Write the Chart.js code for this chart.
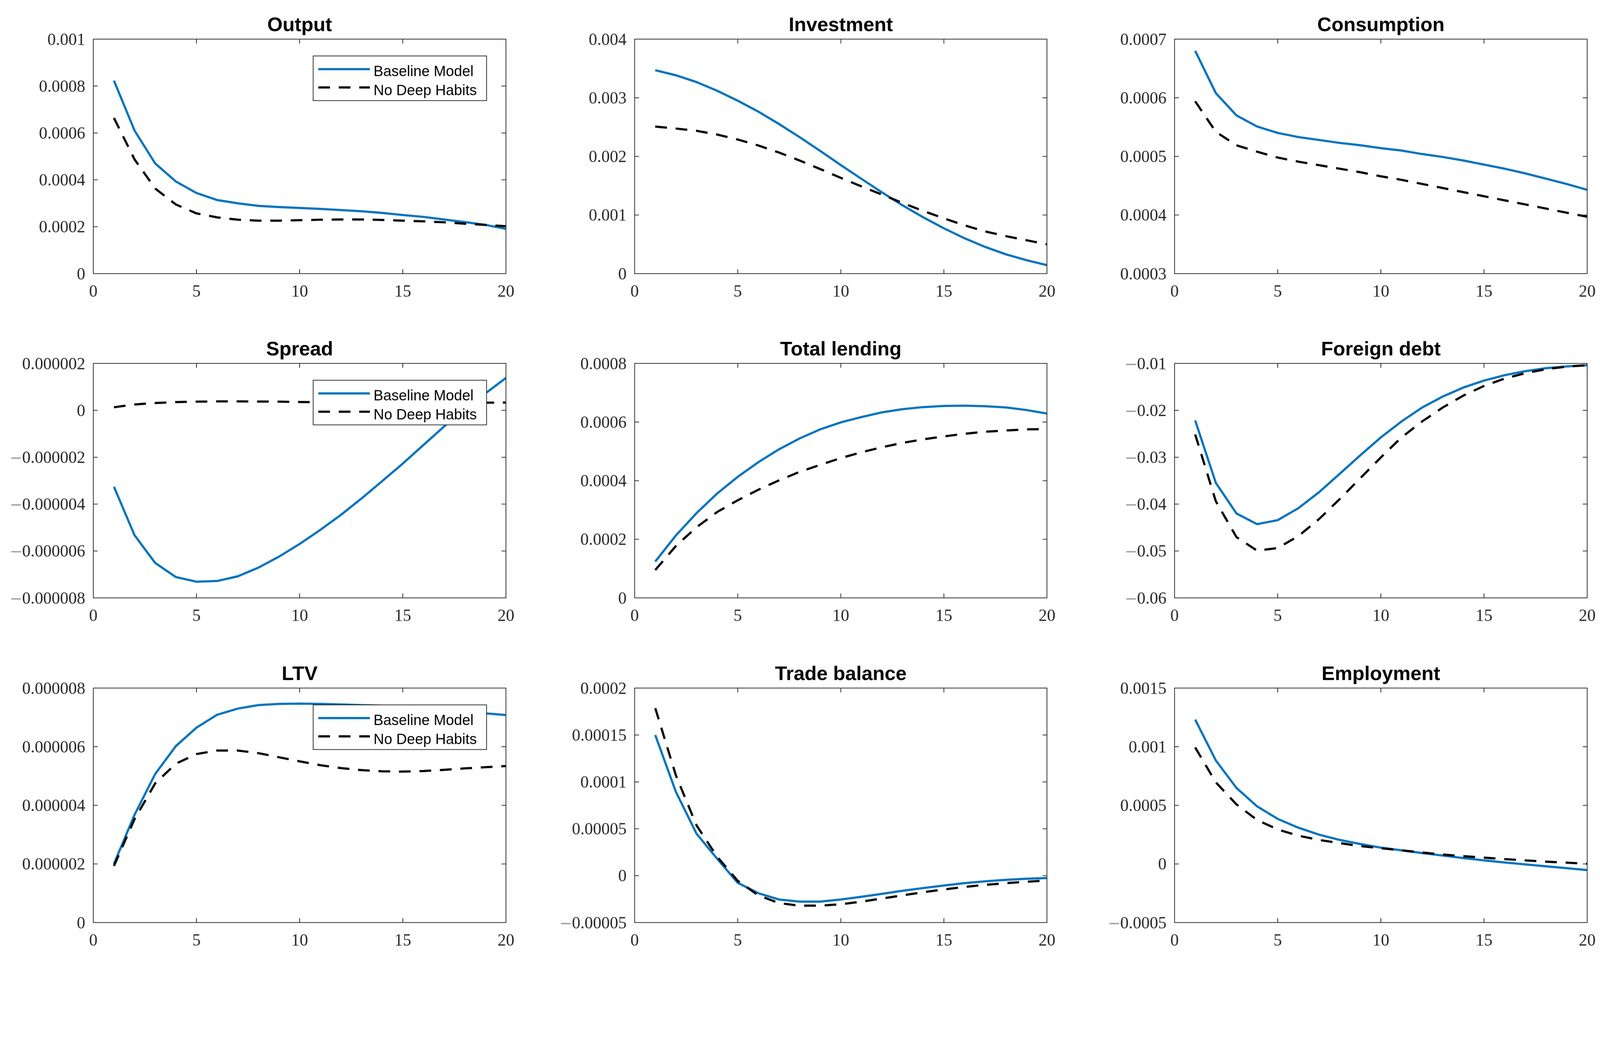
<!DOCTYPE html>
<html>
<head>
<meta charset="utf-8">
<script src="https://cdn.jsdelivr.net/npm/chart.js@4.4.1/dist/chart.umd.min.js"></script>
<style>
  html, body { margin: 0; padding: 0; background: #fff; overflow: hidden; }
  #wrap { position: relative; overflow: hidden; background: #fff; }
  #wrap canvas { position: absolute; }
</style>
</head>
<body>
<div id="wrap"></div>
<script>
// periods on the horizontal axis
const periods = [1, 2, 3, 4, 5, 6, 7, 8, 9, 10, 11, 12, 13, 14, 15, 16, 17, 18, 19, 20];
const xTicks = [0, 5, 10, 15, 20];
const seriesNames = ['Baseline Model', 'No Deep Habits'];

const outputBase = [0.000823, 0.00061, 0.00047, 0.000393, 0.000344, 0.000314, 0.0003, 0.000289, 0.000284, 0.00028, 0.000276, 0.000271, 0.000266, 0.000259, 0.00025, 0.000242, 0.000231, 0.00022, 0.000208, 0.000191];
const outputNoDH = [0.000664, 0.000487, 0.000363, 0.000295, 0.000257, 0.00024, 0.00023, 0.000226, 0.000226, 0.000228, 0.00023, 0.000231, 0.000231, 0.000229, 0.000226, 0.000223, 0.000219, 0.000213, 0.000208, 0.000202];
const outputTicks = [0, 0.0002, 0.0004, 0.0006, 0.0008, 0.001];

const investBase = [0.00347, 0.003384, 0.003268, 0.00312, 0.00295, 0.002764, 0.002553, 0.002329, 0.002094, 0.001852, 0.001617, 0.001386, 0.001164, 0.00096, 0.000773, 0.000603, 0.000456, 0.00033, 0.00023, 0.000145];
const investNoDH = [0.002509, 0.002475, 0.002437, 0.002373, 0.002288, 0.002186, 0.002066, 0.00193, 0.001784, 0.001634, 0.001488, 0.001348, 0.001205, 0.001069, 0.000943, 0.000824, 0.00072, 0.00064, 0.00057, 0.0005];
const investTicks = [0, 0.001, 0.002, 0.003, 0.004];

const consBase = [0.00068, 0.000608, 0.00057, 0.000551, 0.00054, 0.000533, 0.000528, 0.000523, 0.000519, 0.000514, 0.00051, 0.000504, 0.000499, 0.000493, 0.000486, 0.000479, 0.000471, 0.000462, 0.000453, 0.000443];
const consNoDH = [0.000594, 0.000542, 0.000519, 0.000508, 0.000498, 0.000491, 0.000485, 0.000479, 0.000473, 0.000466, 0.00046, 0.000453, 0.000446, 0.000439, 0.000432, 0.000425, 0.000418, 0.000411, 0.000404, 0.000397];
const consTicks = [0.0003, 0.0004, 0.0005, 0.0006, 0.0007];

const spreadBase = [-3.26e-6, -5.33e-6, -6.51e-6, -7.11e-6, -7.31e-6, -7.28e-6, -7.08e-6, -6.71e-6, -6.24e-6, -5.70e-6, -5.10e-6, -4.46e-6, -3.76e-6, -3.02e-6, -2.27e-6, -1.48e-6, -0.69e-6, 0.02e-6, 0.72e-6, 1.38e-6];
const spreadNoDH = [0.13e-6, 0.25e-6, 0.31e-6, 0.35e-6, 0.37e-6, 0.38e-6, 0.38e-6, 0.375e-6, 0.37e-6, 0.355e-6, 0.345e-6, 0.335e-6, 0.33e-6, 0.325e-6, 0.32e-6, 0.32e-6, 0.32e-6, 0.32e-6, 0.325e-6, 0.33e-6];
const spreadTicks = [-0.000008, -0.000006, -0.000004, -0.000002, 0, 0.000002];

const lendBase = [1.24e-4, 2.13e-4, 2.89e-4, 3.56e-4, 4.13e-4, 4.63e-4, 5.07e-4, 5.44e-4, 5.75e-4, 5.99e-4, 6.17e-4, 6.33e-4, 6.44e-4, 6.51e-4, 6.55e-4, 6.56e-4, 6.54e-4, 6.5e-4, 6.41e-4, 6.29e-4];
const lendNoDH = [0.95e-4, 1.77e-4, 2.41e-4, 2.93e-4, 3.33e-4, 3.69e-4, 4.01e-4, 4.3e-4, 4.54e-4, 4.77e-4, 4.97e-4, 5.14e-4, 5.29e-4, 5.41e-4, 5.51e-4, 5.6e-4, 5.67e-4, 5.71e-4, 5.75e-4, 5.76e-4];
const lendTicks = [0, 0.0002, 0.0004, 0.0006, 0.0008];

const debtBase = [-0.02216, -0.03547, -0.042, -0.04427, -0.04342, -0.04087, -0.03747, -0.03355, -0.0296, -0.02577, -0.02237, -0.0194, -0.01706, -0.01514, -0.01366, -0.01251, -0.01166, -0.01102, -0.01064, -0.01038];
const debtNoDH = [-0.02514, -0.03938, -0.04703, -0.04992, -0.04937, -0.04682, -0.0432, -0.03895, -0.03449, -0.03003, -0.02577, -0.02237, -0.0194, -0.01685, -0.0148, -0.01323, -0.01208, -0.01123, -0.01068, -0.01038];
const debtTicks = [-0.06, -0.05, -0.04, -0.03, -0.02, -0.01];

const ltvBase = [2.0e-6, 3.68e-6, 5.07e-6, 6.02e-6, 6.65e-6, 7.09e-6, 7.30e-6, 7.42e-6, 7.46e-6, 7.47e-6, 7.46e-6, 7.44e-6, 7.42e-6, 7.40e-6, 7.36e-6, 7.31e-6, 7.26e-6, 7.2e-6, 7.14e-6, 7.08e-6];
const ltvNoDH = [1.93e-6, 3.53e-6, 4.75e-6, 5.42e-6, 5.75e-6, 5.87e-6, 5.87e-6, 5.78e-6, 5.64e-6, 5.50e-6, 5.37e-6, 5.27e-6, 5.2e-6, 5.16e-6, 5.15e-6, 5.17e-6, 5.21e-6, 5.26e-6, 5.30e-6, 5.34e-6];
const ltvTicks = [0, 0.000002, 0.000004, 0.000006, 0.000008];

const tradeBase = [15.0e-5, 8.94e-5, 4.48e-5, 1.81e-5, -0.76e-5, -1.87e-5, -2.54e-5, -2.77e-5, -2.77e-5, -2.54e-5, -2.25e-5, -1.94e-5, -1.61e-5, -1.32e-5, -1.05e-5, -0.8e-5, -0.6e-5, -0.45e-5, -0.33e-5, -0.25e-5];
const tradeNoDH = [17.86e-5, 10.7e-5, 5.37e-5, 2.03e-5, -0.55e-5, -2.1e-5, -2.92e-5, -3.2e-5, -3.2e-5, -3.05e-5, -2.77e-5, -2.43e-5, -2.1e-5, -1.76e-5, -1.47e-5, -1.2e-5, -0.98e-5, -0.8e-5, -0.65e-5, -0.51e-5];
const tradeTicks = [-0.00005, 0, 0.00005, 0.0001, 0.00015, 0.0002];

const emplBase = [0.001231, 0.000883, 0.000648, 0.000491, 0.000384, 0.000309, 0.00025, 0.000205, 0.00017, 0.000139, 0.000116, 0.0000928, 0.0000714, 0.00005, 0.0000303, 0.0000125, -0.000004, -0.00002, -0.000036, -0.000052];
const emplNoDH = [0.000994, 0.000696, 0.000508, 0.000375, 0.000294, 0.000241, 0.000205, 0.000178, 0.000152, 0.000134, 0.000116, 0.0000981, 0.0000803, 0.000066, 0.0000535, 0.000041, 0.0000303, 0.0000196, 0.0000107, 0.0000018];
const emplTicks = [-0.0005, 0, 0.0005, 0.001, 0.0015];

const panels = [
  { title: 'Output', base: outputBase, alt: outputNoDH, ticks: outputTicks, legend: true },
  { title: 'Investment', base: investBase, alt: investNoDH, ticks: investTicks },
  { title: 'Consumption', base: consBase, alt: consNoDH, ticks: consTicks },
  { title: 'Spread', base: spreadBase, alt: spreadNoDH, ticks: spreadTicks, legend: true },
  { title: 'Total lending', base: lendBase, alt: lendNoDH, ticks: lendTicks },
  { title: 'Foreign debt', base: debtBase, alt: debtNoDH, ticks: debtTicks },
  { title: 'LTV', base: ltvBase, alt: ltvNoDH, ticks: ltvTicks, legend: true },
  { title: 'Trade balance', base: tradeBase, alt: tradeNoDH, ticks: tradeTicks },
  { title: 'Employment', base: emplBase, alt: emplNoDH, ticks: emplTicks }
];

const BLUE = '#0072BD';
const AXIS = '#262626';
const DASH = [32, 24];
const AXIS_W = 255, TOP_PAD = 107, PLOT_W = 1128, PLOT_H = 641, RIGHT_PAD = 35, XAXIS_H = 100;
const colLeft = [0, 1480, 2957];
const rowTop = [0, 887, 1774];
const tickFont = '46px "Liberation Serif"';

// the layout is worked out in screenshot pixels; map it onto css pixels
const S = (window.innerWidth || 4375) / 4375;

// MATLAB-like box, inward ticks, labels, title and legend
const matlabLook = {
  id: 'matlabLook',
  afterDatasetsDraw(chart, args, opts) {
    if (!opts.legend) return;
    const ctx = chart.ctx;
    const a = chart.chartArea;
    const bw = 474, bh = 122;
    const bx = a.right - 53 - bw, by = a.top + 46;
    ctx.save();
    ctx.fillStyle = '#fff';
    ctx.fillRect(bx, by, bw, bh);
    ctx.strokeStyle = AXIS;
    ctx.lineWidth = 2;
    ctx.strokeRect(bx, by, bw, bh);
    chart.data.datasets.forEach((ds, i) => {
      const ly = by + 36 + i * 50;
      ctx.beginPath();
      ctx.strokeStyle = ds.borderColor;
      ctx.lineWidth = ds.borderWidth;
      ctx.setLineDash(ds.borderDash || []);
      ctx.moveTo(bx + 14, ly);
      ctx.lineTo(bx + 155, ly);
      ctx.stroke();
      ctx.setLineDash([]);
      ctx.fillStyle = '#000';
      ctx.font = '40px "Liberation Sans"';
      ctx.textAlign = 'left';
      ctx.textBaseline = 'alphabetic';
      ctx.fillText(ds.label, bx + 165, by + 55 + i * 52);
    });
    ctx.restore();
  },
  afterDraw(chart, args, opts) {
    const ctx = chart.ctx;
    const a = chart.chartArea;
    const xs = chart.scales.x, ys = chart.scales.y;
    ctx.save();
    ctx.strokeStyle = AXIS;
    ctx.lineWidth = 2;
    ctx.strokeRect(a.left, a.top, a.right - a.left, a.bottom - a.top);
    ctx.beginPath();
    xs.ticks.forEach(t => {
      const px = xs.getPixelForValue(t.value);
      ctx.moveTo(px, a.bottom); ctx.lineTo(px, a.bottom - 12);
      ctx.moveTo(px, a.top); ctx.lineTo(px, a.top + 12);
    });
    ys.ticks.forEach(t => {
      const py = ys.getPixelForValue(t.value);
      ctx.moveTo(a.left, py); ctx.lineTo(a.left + 12, py);
      ctx.moveTo(a.right, py); ctx.lineTo(a.right - 12, py);
    });
    ctx.stroke();

    ctx.font = tickFont;
    ctx.textBaseline = 'alphabetic';
    ctx.textAlign = 'center';
    ctx.fillStyle = AXIS;
    xs.ticks.forEach(t => {
      ctx.fillText(String(t.value), xs.getPixelForValue(t.value), a.bottom + 63);
    });
    ctx.textAlign = 'right';
    ys.ticks.forEach(t => {
      const py = ys.getPixelForValue(t.value) + 15.5;
      const s = String(t.value);
      const neg = s.charAt(0) === '-';
      const num = neg ? s.slice(1) : s;
      ctx.font = tickFont;
      ctx.fillStyle = AXIS;
      ctx.fillText(num, a.left - 22, py);
      if (neg) {
        const w = ctx.measureText(num).width;
        ctx.font = '42px "DejaVu Sans"';
        ctx.fillStyle = '#9a9a9a';
        ctx.fillText('\u2212', a.left - 21 - w, py);
      }
    });

    ctx.fillStyle = '#000';
    ctx.font = 'bold 54px "Liberation Sans"';
    ctx.textAlign = 'center';
    ctx.fillText(opts.title, (a.left + a.right) / 2, a.top - 22);
    ctx.restore();
  }
};

const wrap = document.getElementById('wrap');
wrap.style.width = (4375 * S) + 'px';
wrap.style.height = (2662 * S) + 'px';

panels.forEach((p, i) => {
  const c = document.createElement('canvas');
  const w = AXIS_W + PLOT_W + RIGHT_PAD, h = TOP_PAD + PLOT_H + XAXIS_H;
  c.width = w; c.height = h;
  c.style.width = (w * S) + 'px';
  c.style.height = (h * S) + 'px';
  c.style.left = (colLeft[i % 3] * S) + 'px';
  c.style.top = (rowTop[Math.floor(i / 3)] * S) + 'px';
  wrap.appendChild(c);

  new Chart(c, {
    type: 'line',
    data: {
      datasets: [
        {
          label: seriesNames[0],
          data: periods.map((x, j) => ({ x: x, y: p.base[j] })),
          borderColor: BLUE,
          borderWidth: 6,
          pointRadius: 0,
          tension: 0,
          order: 2
        },
        {
          label: seriesNames[1],
          data: periods.map((x, j) => ({ x: x, y: p.alt[j] })),
          borderColor: '#000',
          borderWidth: 6,
          borderDash: DASH,
          pointRadius: 0,
          tension: 0,
          order: 1
        }
      ]
    },
    options: {
      responsive: false,
      animation: false,
      devicePixelRatio: 1,
      layout: { padding: { top: TOP_PAD, right: RIGHT_PAD, left: 0, bottom: 0 } },
      plugins: {
        legend: { display: false },
        tooltip: { enabled: false },
        title: { display: false },
        matlabLook: { title: p.title, legend: !!p.legend }
      },
      scales: {
        x: {
          type: 'linear',
          min: xTicks[0],
          max: xTicks[xTicks.length - 1],
          grid: { display: false },
          border: { display: false },
          ticks: { display: false },
          afterBuildTicks: s => { s.ticks = xTicks.map(v => ({ value: v })); },
          afterFit: s => { s.height = XAXIS_H; }
        },
        y: {
          type: 'linear',
          min: p.ticks[0],
          max: p.ticks[p.ticks.length - 1],
          grid: { display: false },
          border: { display: false },
          ticks: { display: false },
          afterBuildTicks: s => { s.ticks = p.ticks.map(v => ({ value: v })); },
          afterFit: s => { s.width = AXIS_W; }
        }
      }
    },
    plugins: [matlabLook]
  });
});
</script>
</body>
</html>
